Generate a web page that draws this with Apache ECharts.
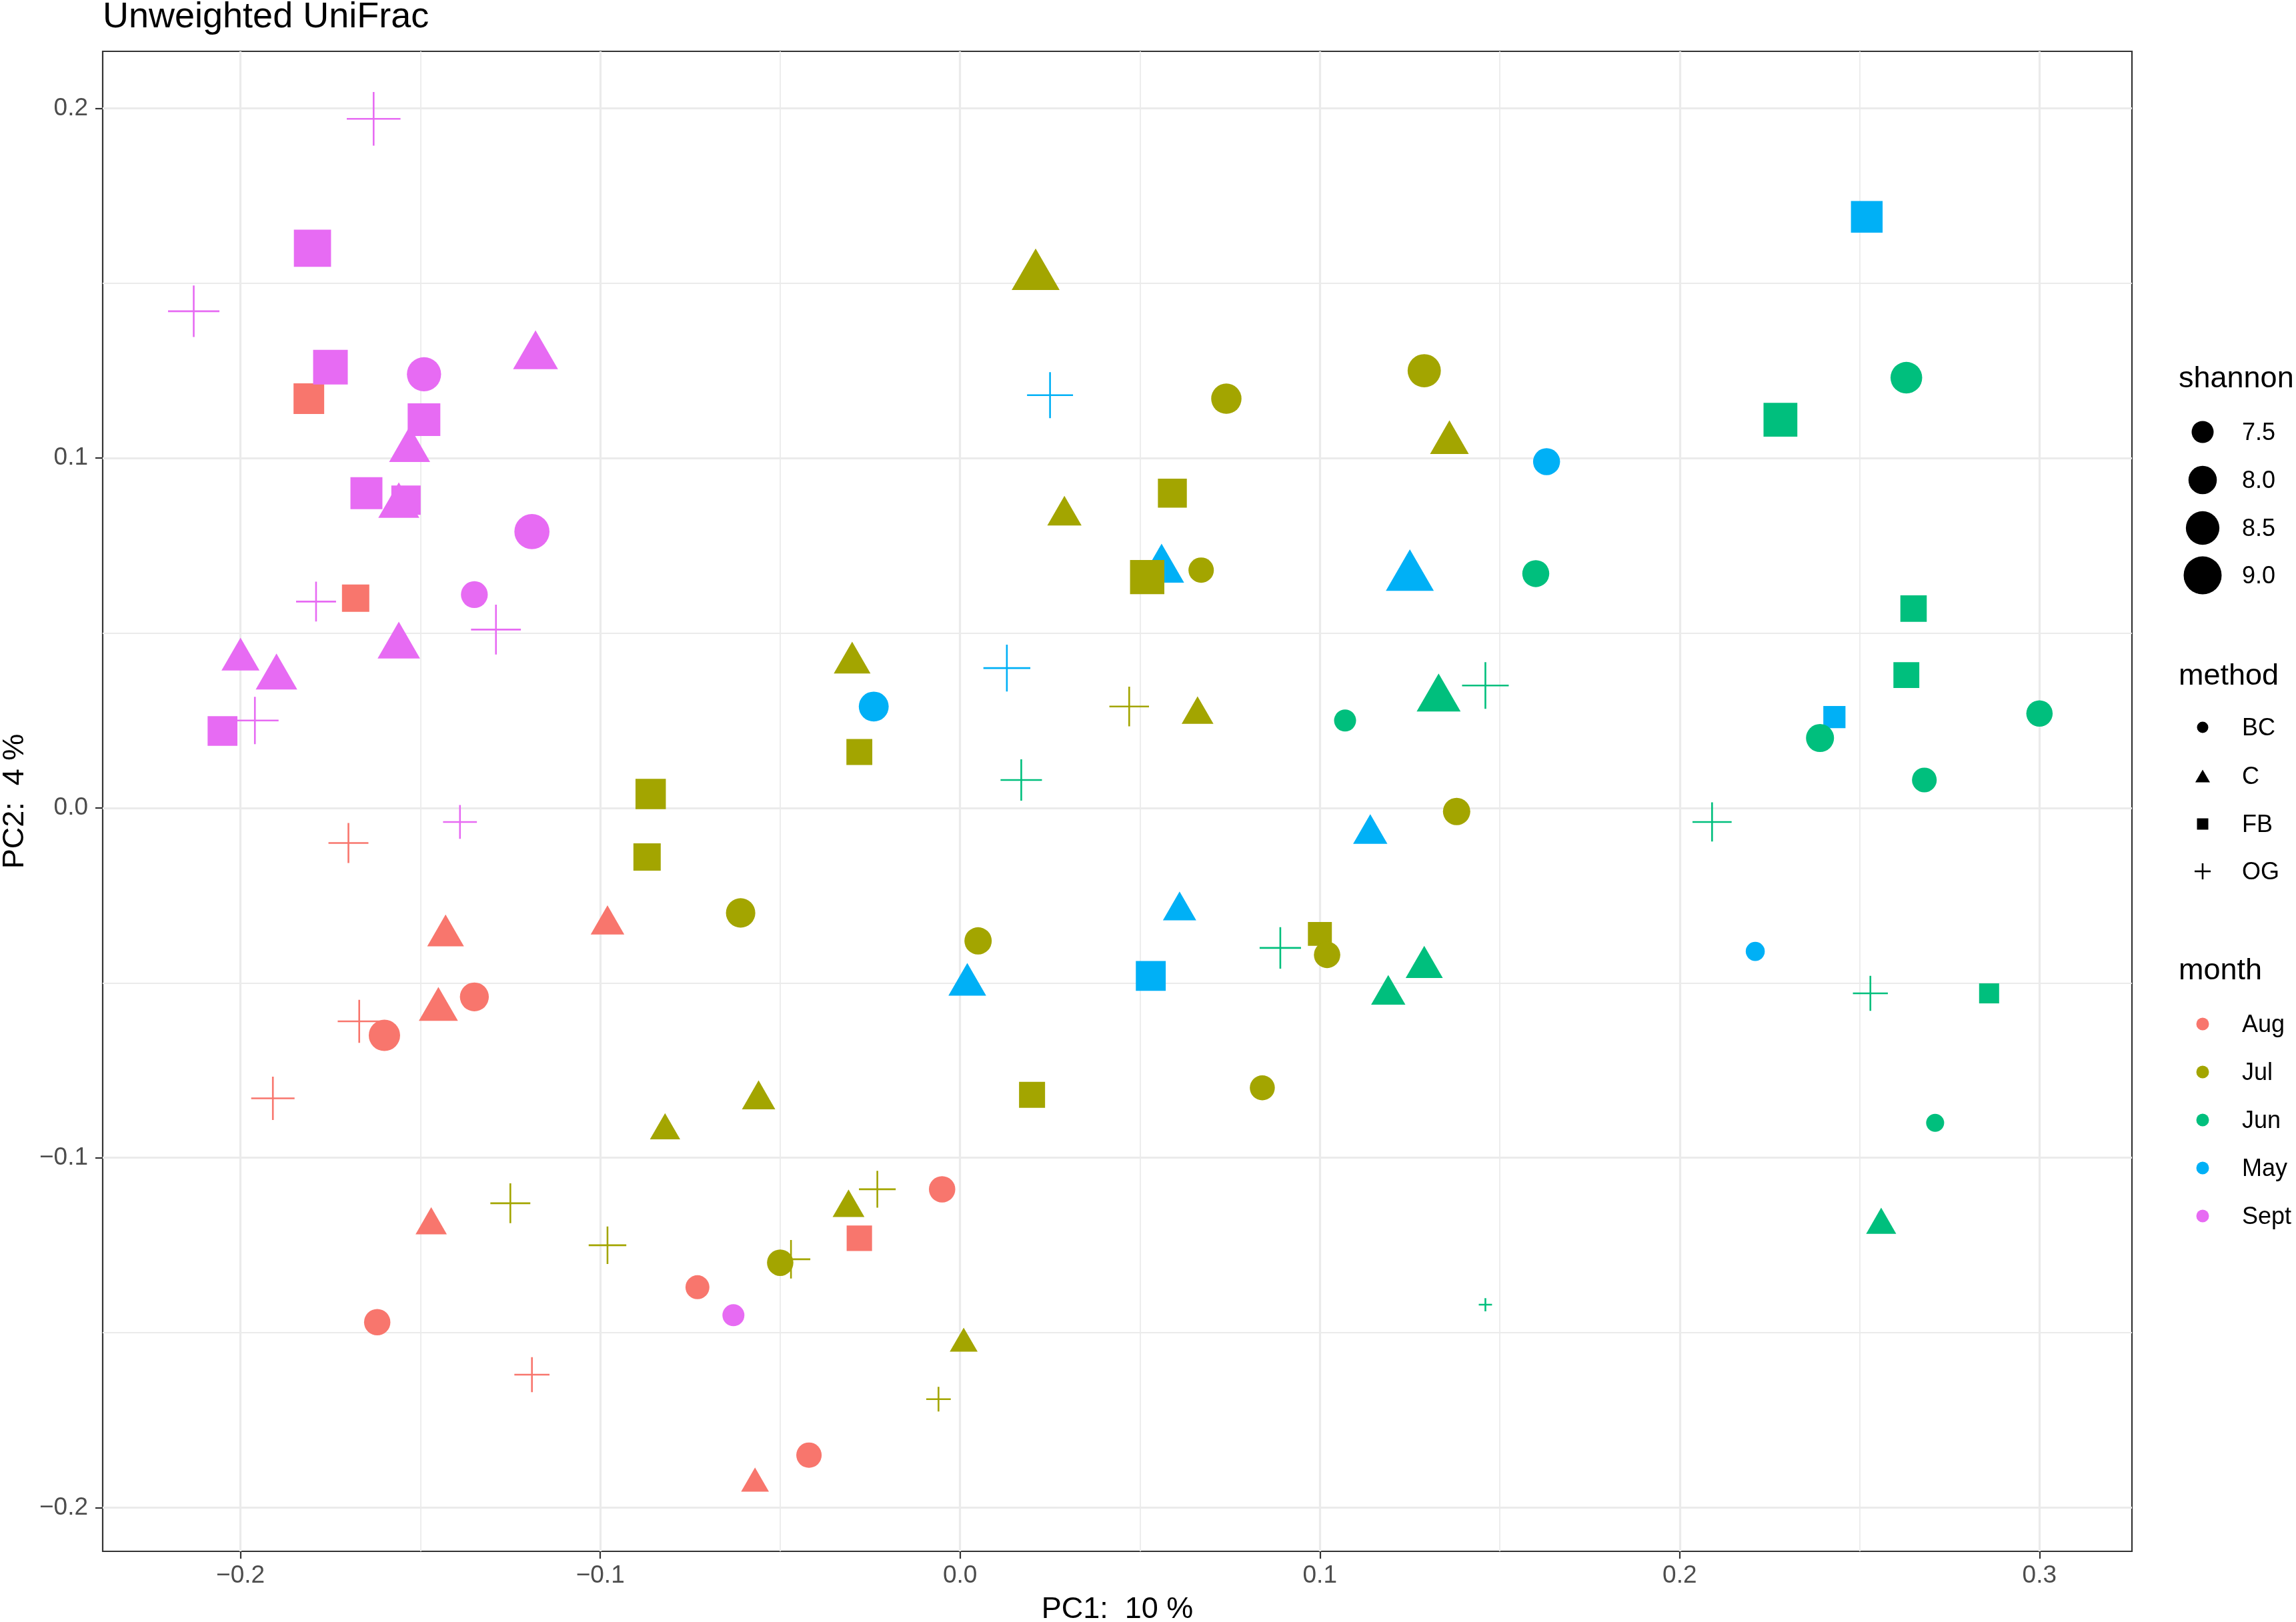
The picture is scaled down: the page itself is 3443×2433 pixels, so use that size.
<!DOCTYPE html>
<html><head><meta charset="utf-8">
<script src="https://cdn.jsdelivr.net/npm/echarts@6/dist/echarts.min.js"></script>
<style>html,body{margin:0;padding:0;background:#fff}#chart{width:3443px;height:2433px}</style>
</head><body><div id="chart"></div>
<script>
const FONT = '"Liberation Sans", Arial, Helvetica, sans-serif';
const titleText = 'Unweighted UniFrac';
const xName = 'PC1:  10 %';
const yName = 'PC2:  4 %';
const xTicks = [-0.2, -0.1, 0.0, 0.1, 0.2, 0.3];
const yTicks = [-0.2, -0.1, 0.0, 0.1, 0.2];
const xMinor = [-0.15, -0.05, 0.05, 0.15, 0.25];
const yMinor = [-0.15, -0.05, 0.05, 0.15];
const months = ['Aug', 'Jul', 'Jun', 'May', 'Sept'];
const monthColors = ['#F8766D', '#A3A500', '#00BF7D', '#00B0F6', '#E76BF3'];
const methods = ['BC', 'C', 'FB', 'OG'];
const shannonBreaks = [7.5, 8.0, 8.5, 9.0];

// [PC1, PC2, shannon, method]
const aug = [
  [-0.181, 0.117, 8.21, 'FB'], [-0.168, 0.060, 7.91, 'FB'], [-0.170, -0.010, 7.98, 'OG'],
  [-0.143, -0.035, 7.99, 'C'], [-0.098, -0.032, 7.79, 'C'], [-0.135, -0.054, 8.05, 'BC'],
  [-0.145, -0.056, 8.16, 'C'], [-0.167, -0.061, 8.18, 'OG'], [-0.160, -0.065, 8.28, 'BC'],
  [-0.191, -0.083, 8.20, 'OG'], [-0.147, -0.118, 7.65, 'C'], [-0.162, -0.147, 7.83, 'BC'],
  [-0.119, -0.162, 7.70, 'OG'], [-0.073, -0.137, 7.64, 'BC'], [-0.005, -0.109, 7.83, 'BC'],
  [-0.028, -0.123, 7.75, 'FB'], [-0.057, -0.192, 7.46, 'C'], [-0.042, -0.185, 7.75, 'BC']
];
const jul = [
  [0.021, 0.154, 8.87, 'C'], [0.074, 0.117, 8.18, 'BC'], [0.129, 0.125, 8.47, 'BC'],
  [0.136, 0.106, 8.13, 'C'], [0.029, 0.085, 7.83, 'C'], [0.059, 0.090, 8.05, 'FB'],
  [0.052, 0.066, 8.58, 'FB'], [0.067, 0.068, 7.75, 'BC'], [-0.030, 0.043, 7.99, 'C'],
  [-0.028, 0.016, 7.79, 'FB'], [0.066, 0.028, 7.68, 'C'], [0.047, 0.029, 7.96, 'OG'],
  [0.138, -0.001, 7.91, 'BC'], [-0.086, 0.004, 8.18, 'FB'], [-0.087, -0.014, 7.91, 'FB'],
  [-0.061, -0.030, 8.09, 'BC'], [0.005, -0.038, 7.91, 'BC'], [0.100, -0.036, 7.64, 'FB'],
  [0.102, -0.042, 7.83, 'BC'], [-0.056, -0.082, 7.77, 'C'], [-0.082, -0.091, 7.59, 'C'],
  [0.020, -0.082, 7.80, 'FB'], [0.084, -0.080, 7.72, 'BC'], [-0.125, -0.113, 7.98, 'OG'],
  [-0.098, -0.125, 7.84, 'OG'], [-0.023, -0.109, 7.79, 'OG'], [-0.031, -0.113, 7.68, 'C'],
  [-0.050, -0.130, 7.83, 'BC'], [-0.047, -0.129, 7.90, 'OG'], [0.001, -0.152, 7.46, 'C'],
  [-0.006, -0.169, 7.21, 'OG']
];
const jun = [
  [0.263, 0.123, 8.31, 'BC'], [0.228, 0.111, 8.53, 'FB'], [0.160, 0.067, 7.88, 'BC'],
  [0.265, 0.057, 7.83, 'FB'], [0.263, 0.038, 7.79, 'FB'], [0.239, 0.020, 7.97, 'BC'],
  [0.300, 0.027, 7.83, 'BC'], [0.268, 0.008, 7.70, 'BC'], [0.133, 0.033, 8.53, 'C'],
  [0.146, 0.035, 8.43, 'OG'], [0.107, 0.025, 7.50, 'BC'], [0.017, 0.008, 8.07, 'OG'],
  [0.209, -0.004, 7.93, 'OG'], [0.089, -0.040, 8.07, 'OG'], [0.119, -0.052, 7.83, 'C'],
  [0.129, -0.044, 8.02, 'C'], [0.253, -0.053, 7.69, 'OG'], [0.286, -0.053, 7.37, 'FB'],
  [0.271, -0.090, 7.25, 'BC'], [0.256, -0.118, 7.58, 'C'], [0.146, -0.142, 6.88, 'OG']
];
const may = [
  [0.252, 0.169, 8.31, 'FB'], [0.025, 0.118, 8.38, 'OG'], [0.163, 0.099, 7.88, 'BC'],
  [0.056, 0.070, 8.62, 'C'], [0.125, 0.068, 8.87, 'C'], [0.013, 0.040, 8.45, 'OG'],
  [-0.024, 0.029, 8.14, 'BC'], [0.243, 0.026, 7.51, 'FB'], [0.114, -0.006, 7.83, 'C'],
  [0.061, -0.028, 7.77, 'C'], [0.053, -0.048, 8.14, 'FB'], [0.002, -0.049, 8.06, 'C'],
  [0.221, -0.041, 7.31, 'BC']
];
const sept = [
  [-0.163, 0.197, 8.98, 'OG'], [-0.180, 0.160, 8.90, 'FB'], [-0.213, 0.142, 8.79, 'OG'],
  [-0.175, 0.126, 8.62, 'FB'], [-0.149, 0.124, 8.57, 'BC'], [-0.118, 0.131, 8.61, 'C'],
  [-0.149, 0.111, 8.41, 'FB'], [-0.153, 0.104, 8.30, 'C'], [-0.165, 0.090, 8.34, 'FB'],
  [-0.156, 0.088, 8.30, 'C'], [-0.154, 0.088, 8.09, 'FB'], [-0.119, 0.079, 8.67, 'BC'],
  [-0.135, 0.061, 7.87, 'BC'], [-0.129, 0.051, 8.67, 'OG'], [-0.179, 0.059, 7.98, 'OG'],
  [-0.156, 0.048, 8.41, 'C'], [-0.200, 0.044, 8.08, 'C'], [-0.190, 0.039, 8.34, 'C'],
  [-0.205, 0.022, 8.13, 'FB'], [-0.196, 0.025, 8.48, 'OG'], [-0.139, -0.004, 7.63, 'OG'],
  [-0.063, -0.145, 7.50, 'BC']
];
const monthData = { Aug: aug, Jul: jul, Jun: jun, May: may, Sept: sept };

// ---- rendering helpers ----
const PLUS = 'path://M0 1L2 1M1 0L1 2';
const symbolOf = { BC: 'circle', C: 'triangle', FB: 'rect', OG: PLUS };
function diam(s) { return Math.sqrt(Math.max(1089 + 1440 * (s - 7.5), 16)); }
function sizeFor(method, s) {
  const d = diam(s);
  if (method === 'C') return [1.3 * d, 1.3 * d * 0.866];
  if (method === 'OG') return 1.42 * d;
  return d;
}
const fmt = v => (Math.abs(v) < 1e-9 ? '0.0' : v.toFixed(1).replace('-', '\u2212'));

const drawMonths = ['May', 'Jun', 'Jul', 'Aug', 'Sept'];
const drawMethods = ['OG', 'C', 'FB', 'BC'];
const series = [];

const gridLineData = []
  .concat(xMinor.map(v => ({ xAxis: v, lineStyle: { width: 1.8 } })))
  .concat(yMinor.map(v => ({ yAxis: v, lineStyle: { width: 1.8 } })))
  .concat(xTicks.map(v => ({ xAxis: v, lineStyle: { width: 3.2 } })))
  .concat(yTicks.map(v => ({ yAxis: v, lineStyle: { width: 3.2 } })));
series.push({
  type: 'scatter', data: [], z: 1, silent: true,
  markLine: {
    silent: true, z: 1, animation: false, symbol: ['none', 'none'],
    label: { show: false }, emphasis: { disabled: true },
    lineStyle: { color: '#EBEBEB', type: 'solid' },
    data: gridLineData
  }
});

drawMonths.forEach(m => {
  const col = monthColors[months.indexOf(m)];
  drawMethods.forEach(meth => {
    const pts = monthData[m].filter(p => p[3] === meth).map(p => [p[0], p[1], p[2]]);
    if (!pts.length) return;
    series.push({
      type: 'scatter', name: m + ' ' + meth, z: 3, silent: true,
      symbol: symbolOf[meth],
      symbolSize: v => sizeFor(meth, v[2]),
      itemStyle: meth === 'OG'
        ? { color: col, borderColor: col, borderWidth: 2.6, opacity: 1 }
        : { color: col, borderWidth: 0, opacity: 1 },
      emphasis: { disabled: true },
      data: pts
    });
  });
});

// ---- legend (graphic) ----
const LX_TITLE = 3267, LX_KEY = 3303, LX_LAB = 3362;
const g = [];
function ltext(t, x, y, size) {
  g.push({ type: 'text', x: x, y: y, style: { text: t, fill: '#000', font: size + 'px ' + FONT, textVerticalAlign: 'middle', textAlign: 'left' } });
}
ltext('shannon', LX_TITLE, 569, 45);
const shY = [648, 720, 792, 863];
shannonBreaks.forEach((b, i) => {
  g.push({ type: 'circle', shape: { cx: LX_KEY, cy: shY[i], r: diam(b) / 2 }, style: { fill: '#000' } });
  ltext(b.toFixed(1), LX_LAB, shY[i] + 2, 36);
});
ltext('method', LX_TITLE, 1015, 45);
const mY = [1091, 1164, 1236, 1307];
const dk = 17;
methods.forEach((m, i) => {
  const y = mY[i];
  if (m === 'BC') g.push({ type: 'circle', shape: { cx: LX_KEY, cy: y, r: dk / 2 }, style: { fill: '#000' } });
  if (m === 'C') {
    const w = 1.3 * dk, h = w * 0.866;
    g.push({ type: 'polygon', shape: { points: [[LX_KEY, y - h / 2], [LX_KEY - w / 2, y + h / 2], [LX_KEY + w / 2, y + h / 2]] }, style: { fill: '#000' } });
  }
  if (m === 'FB') g.push({ type: 'rect', shape: { x: LX_KEY - dk / 2, y: y - dk / 2, width: dk, height: dk }, style: { fill: '#000' } });
  if (m === 'OG') {
    const a = 1.42 * dk / 2;
    g.push({ type: 'line', shape: { x1: LX_KEY - a, y1: y, x2: LX_KEY + a, y2: y }, style: { stroke: '#000', lineWidth: 2.6 } });
    g.push({ type: 'line', shape: { x1: LX_KEY, y1: y - a, x2: LX_KEY, y2: y + a }, style: { stroke: '#000', lineWidth: 2.6 } });
  }
  ltext(m, LX_LAB, y + 2, 36);
});
ltext('month', LX_TITLE, 1457, 45);
const moY = [1536, 1608, 1680, 1752, 1824];
months.forEach((m, i) => {
  g.push({ type: 'circle', shape: { cx: LX_KEY, cy: moY[i], r: 9.5 }, style: { fill: monthColors[i] } });
  ltext(m, LX_LAB, moY[i] + 2, 36);
});

const axisCommon = {
  type: 'value',
  splitLine: { show: false },
  axisLine: { show: false, onZero: false },
  nameLocation: 'middle',
  nameTextStyle: { fontSize: 45, color: '#000', fontFamily: FONT }
};

const option = {
  animation: false,
  backgroundColor: '#fff',
  title: {
    text: titleText, left: 154, top: -1, padding: 0,
    textStyle: { fontSize: 54, fontWeight: 'normal', color: '#000', fontFamily: FONT }
  },
  grid: {
    left: 154, right: 246, top: 77, bottom: 106,
    outerBoundsMode: 'none',
    show: true, backgroundColor: '#fff', borderColor: '#333333', borderWidth: 2.2, containLabel: false
  },
  xAxis: Object.assign({}, axisCommon, {
    min: -0.2383, max: 0.3257, name: xName, nameGap: 65,
    axisTick: { show: true, customValues: xTicks, length: 11, lineStyle: { color: '#333333', width: 2.2 } },
    axisLabel: { customValues: xTicks, formatter: fmt, fontSize: 37, color: '#4D4D4D', margin: 18, fontFamily: FONT }
  }),
  yAxis: Object.assign({}, axisCommon, {
    min: -0.2125, max: 0.2163, name: yName, nameGap: 109,
    axisTick: { show: true, customValues: yTicks, length: 11, lineStyle: { color: '#333333', width: 2.2 } },
    axisLabel: { customValues: yTicks, formatter: fmt, fontSize: 37, color: '#4D4D4D', margin: 22, fontFamily: FONT }
  }),
  graphic: g,
  series: series
};

const chart = echarts.init(document.getElementById('chart'), null, { renderer: 'canvas' });
chart.setOption(option);
</script>
</body></html>
